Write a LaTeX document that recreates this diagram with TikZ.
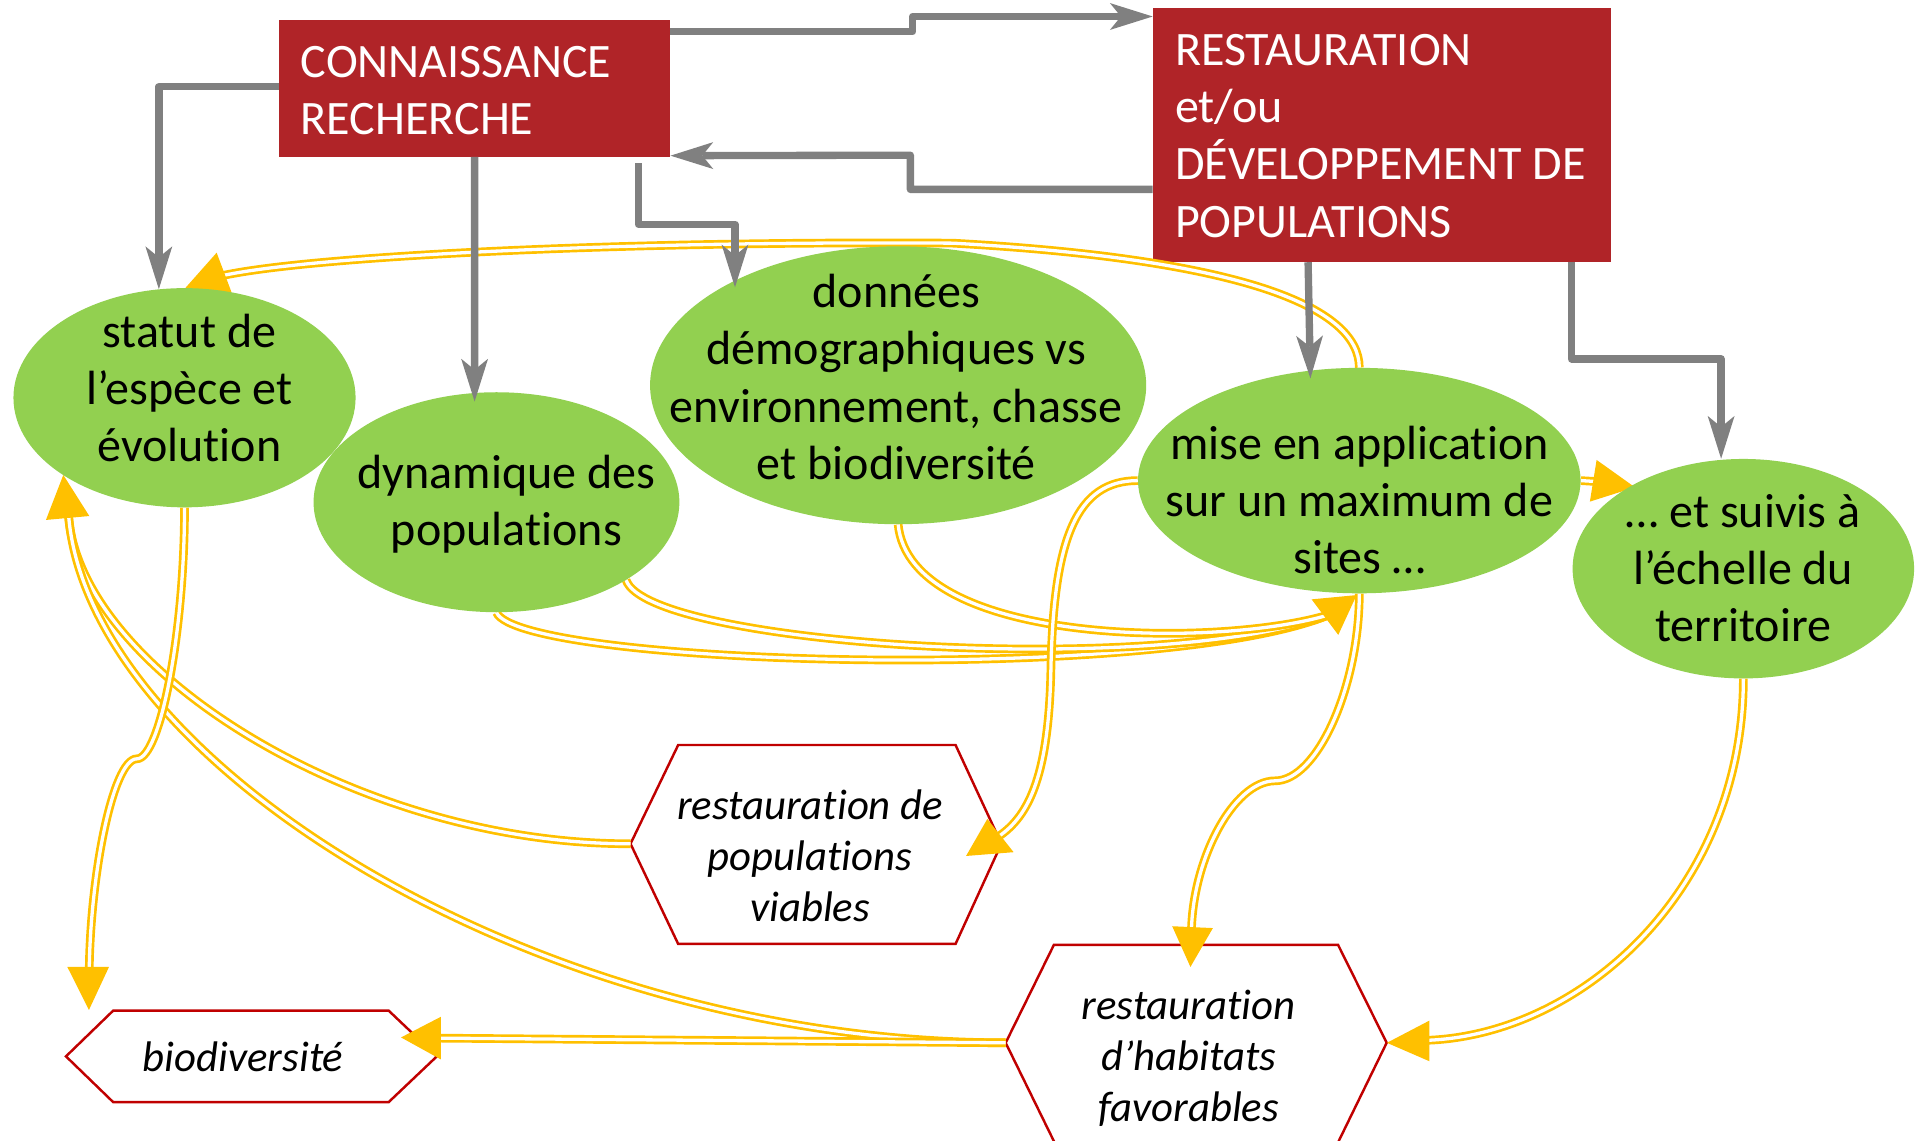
\documentclass[tikz,border=0pt]{standalone}
\usepackage{fontspec}
\setmainfont{Carlito}[Ligatures=NoCommon]
\usetikzlibrary{shapes.geometric,arrows.meta,calc}
\definecolor{RB}{RGB}{176,36,40}
\definecolor{GR}{RGB}{146,208,80}
\definecolor{YE}{RGB}{255,192,0}
\definecolor{GY}{RGB}{128,128,128}
\definecolor{HB}{RGB}{192,0,0}
\begin{document}
\begin{tikzpicture}[x=1pt,y=-1pt,
  redbox/.style={rectangle, fill=RB, draw=none, inner sep=0pt, anchor=north west},
  gell/.style={ellipse, fill=GR, draw=none, inner sep=0pt},
  gtxt/.style={align=center, inner sep=0pt, font=\fontsize{39.3pt}{46.8pt}\selectfont},
  rtxt/.style={align=left, inner sep=0pt, anchor=west, text=white, font=\fontsize{39.3pt}{46.8pt}\selectfont},
  itxt/.style={align=center, inner sep=0pt, font=\fontsize{35pt}{41.5pt}\selectfont\itshape},
  hexa/.style={draw=HB, line width=2pt, fill=white, line join=miter},
  garrow/.style={draw=GY, line width=6pt, line join=round, -{Stealth[length=35pt,width=22pt,inset=9pt,line width=0pt]}},
  ylink/.style={draw=YE, double=white, line width=2.2pt, double distance=2.7pt},
  ytip/.style={fill=YE, draw=none},
]
\useasboundingbox (0,0) rectangle (1568,933);

% ---------- hexagons ----------
\draw[hexa] (54,864.5) coordinate (bioL) -- (92.7,827) -- (318,827) -- (357.5,864.5) coordinate (bioR) -- (318,902) -- (92.7,902) -- cycle;
\draw[hexa] (516,690.5) coordinate (popvL) -- (555,609.7) -- (782,609.7) -- (819.5,690.5) coordinate (popvR) -- (782,772.5) -- (555,772.5) -- cycle;
\draw[hexa] (823,853.4) coordinate (habL) -- (862.5,773.2) -- (1095,773.2) -- (1134.8,853.4) coordinate (habR) -- (1094,937) -- (864,937) -- cycle;

% ---------- boxes ----------
\node[redbox, minimum width=320.3pt, minimum height=112pt] (conn) at (228,16) {};
\node[redbox, minimum width=375.2pt, minimum height=207.7pt] (rest) at (943.3,6.5) {};

% ---------- ellipse positions (named, filled later) ----------
\path (151,325.5) coordinate (statutC) (406.3,411) coordinate (dynC) (735,315.3) coordinate (donC)
      (1112.4,393.3) coordinate (miseC) (1426.7,465.4) coordinate (suivC);
\path node[gell, fill=none, minimum width=280pt, minimum height=179.4pt] (statut) at (statutC) {}
      node[gell, fill=none, minimum width=299.4pt, minimum height=180pt] (dyn) at (dynC) {}
      node[gell, fill=none, minimum width=406pt, minimum height=227.4pt] (donnees) at (donC) {}
      node[gell, fill=none, minimum width=362.2pt, minimum height=184.5pt] (mise) at (miseC) {}
      node[gell, fill=none, minimum width=279.5pt, minimum height=179.6pt] (suivis) at (suivC) {};

% ---------- yellow links ----------
\draw[ylink] (mise.north) .. controls +(0,-50) and (1015,212) .. (780,199) .. controls (500,197) and (250,210) .. (180,226);
\fill[ytip] (177.3,206.8) -- (151.4,236) -- (189.6,239.5) -- cycle;

\draw[ylink] (popvL) .. controls (290,691) and (62,545) .. (56,420);
\draw[ylink] (habL) .. controls (436,853) and (70,622) .. (56,420);
\fill[ytip] (51.8,388.7) -- (37.6,425.5) -- (73.1,422.3) -- cycle;

\draw[ylink] (statut.south) .. controls +(0,103) and (131,621) .. (112,621) .. controls (92,621) and (73,720) .. (73,800);
\fill[ytip] (72.8,826.5) -- (55.1,791.3) -- (89.2,791.3) -- cycle;

\draw[ylink] (habL) -- (350,849.5);
\fill[ytip] (328.2,849) -- (360.8,832.1) -- (360.8,867) -- cycle;

\draw[ylink] (dyn.south) .. controls (425,545) and (950,560) .. (1088,503);
\draw[ylink] (dyn.-31) .. controls +(18,54) and (950,555) .. (1088,503);
\draw[ylink] (donnees.south) .. controls (745,530) and (1000,530) .. (1088,503);
\fill[ytip] (1110.2,487) -- (1073.4,490.5) -- (1095.2,519.6) -- cycle;

\draw[ylink] (mise.south) .. controls +(0,76) and (1078,639) .. (1043.5,639) .. controls (1009,639) and (975,705) .. (975,765);
\fill[ytip] (974.2,791.3) -- (959.3,758) -- (992.6,759.5) -- cycle;

\draw[ylink] (mise.west) .. controls +(-50,0) and (862,440) .. (860,549) .. controls (858,640) and (840,670) .. (815,686);
\fill[ytip] (790.6,700.5) -- (808,670.2) -- (829.5,697.4) -- cycle;

\draw[ylink] (mise.east) -- (1305,394);
\fill[ytip] (1338,398.8) -- (1306.6,376.4) -- (1301.1,410.5) -- cycle;

\draw[ylink] (suivis.south) .. controls +(0,175) and (1290,851.5) .. (1160,851.5);
\fill[ytip] (1135,853.4) -- (1169.8,835.2) -- (1169.8,868.5) -- cycle;

% ---------- green ellipses ----------
\fill[GR] (statutC) ellipse [x radius=140pt, y radius=89.7pt];
\fill[GR] (dynC) ellipse [x radius=149.7pt, y radius=90pt];
\fill[GR] (donC) ellipse [x radius=203pt, y radius=113.7pt];
\fill[GR] (miseC) ellipse [x radius=181.1pt, y radius=92.25pt];
\fill[GR] (suivC) ellipse [x radius=139.75pt, y radius=89.8pt];

% ---------- grey links ----------
\draw[garrow] ($(conn.north east)+(0,10)$) -- (747,26) -- (747,13.5) -- ($(rest.north west)+(0,7)$);
\draw[garrow] ($(rest.north west)+(0,148.5)$) -- (745,155) -- (745,127) -- ($(conn.south east)+(0,-1)$);
\draw[garrow] ($(conn.north west)+(0,55)$) -| ($(statut.north)+(-21,1)$);
\draw[garrow] ($(conn.south west)+(160.4,0)$) -- ($(dyn.north)+(-17.9,7.8)$);
\draw[garrow] ($(conn.south west)+(294.5,5)$) -- (522.5,183.5) -- (601.5,183.5) -- ($(donnees.north)+(-133.5,33.7)$);
\draw[garrow] ($(rest.south west)+(127.2,0)$) -- ($(mise.north)+(-40,8.8)$);
\draw[garrow] ($(rest.south west)+(342.7,0)$) -- (1286,293.7) -- (1408.5,293.7) -- ($(suivis.north)+(-18.2,0)$);

% ---------- texts ----------
\node[rtxt] at (246,74) {CONNAISSANCE\\RECHERCHE};
\node[rtxt] at (961.5,111.3) {RESTAURATION\\et/ou\\DÉVELOPPEMENT DE\\POPULATIONS};
\node[gtxt] at (155,317.7) {statut de\\l’espèce et\\évolution};
\node[gtxt] at (414.5,412.9) {dynamique des\\populations};
\node[gtxt] at (733.5,308.5) {données\\démographiques vs\\environnement, chasse\\et biodiversité};
\node[gtxt] at (1112.5,409) {mise en application\\sur un maximum de\\sites …};
\node[gtxt] at (1426.5,465) {… et suivis à\\l’échelle du\\territoire};
\node[itxt] (popv) at (663,700.5) {restauration de\\populations\\viables};
\node[itxt] (habit) at (972.7,866) {restauration\\d’habitats\\favorables};
\node[itxt] (biodiv) at (199,865) {biodiversité};
\end{tikzpicture}
\end{document}
